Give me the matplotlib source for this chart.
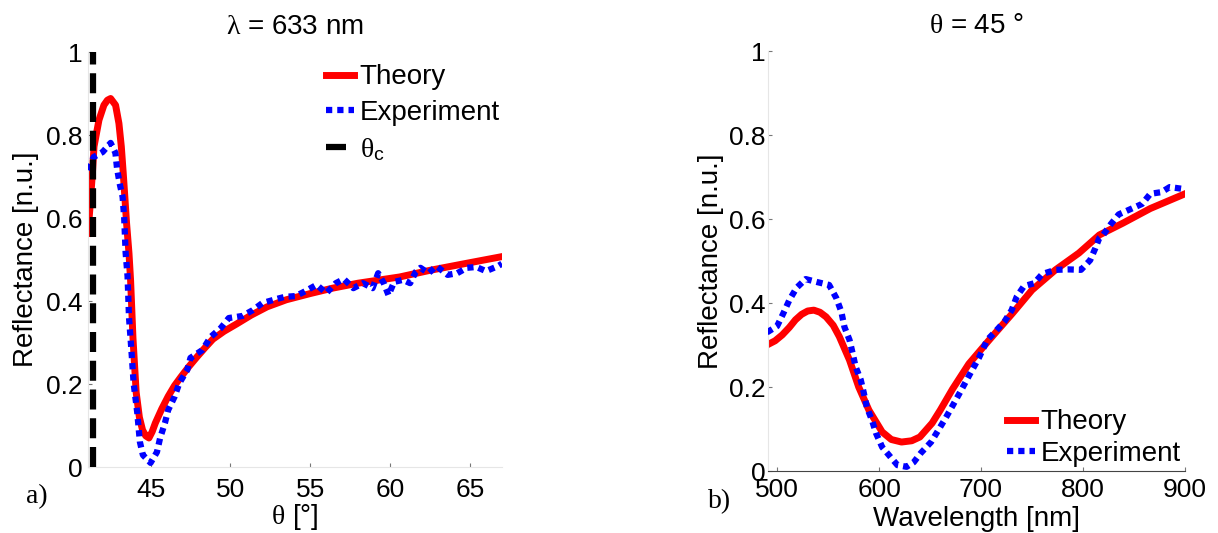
import matplotlib
matplotlib.use("Agg")
import matplotlib.pyplot as plt

plt.rcParams["font.family"] = ["Liberation Sans", "DejaVu Sans"]
plt.rcParams["mathtext.fontset"] = "custom"
plt.rcParams["mathtext.rm"] = "Liberation Serif"
plt.rcParams["mathtext.it"] = "Liberation Serif:italic"
plt.rcParams["mathtext.sf"] = "Liberation Sans"

# -------------------------------
# a) angular scan at 633 nm
# -------------------------------
theta_th = [41.08, 41.21, 41.36, 41.46, 41.77, 42.08, 42.3, 42.5, 42.81, 43.02, 43.17,
            43.29, 43.39, 43.5, 43.65, 43.75, 43.9, 44.1, 44.3, 44.5, 44.7, 44.9,
            45.1, 45.3, 45.7, 46.1, 46.5, 46.9, 47.4, 47.9, 48.4, 48.9, 49.6, 50.4,
            51.3, 52.3, 53.5, 55.0, 56.4, 58.0, 60.6, 62.5, 64.8, 67.0]
refl_th = [0.563, 0.627, 0.708, 0.772, 0.836, 0.872, 0.884, 0.888, 0.872, 0.828, 0.772,
           0.708, 0.651, 0.587, 0.515, 0.45, 0.31, 0.18, 0.12, 0.089, 0.075, 0.07,
           0.085, 0.106, 0.14, 0.17, 0.196, 0.217, 0.242, 0.265, 0.287, 0.308, 0.327,
           0.345, 0.366, 0.386, 0.403, 0.418, 0.431, 0.443, 0.458, 0.474, 0.491, 0.507]

theta_exp = [41.06, 41.44, 42.0, 42.5, 42.8, 42.9, 43.06, 43.25, 43.35, 43.44, 43.56,
             43.65, 43.8, 43.94, 44.17, 44.33, 44.52, 45.0, 45.4, 45.6, 45.9, 46.1,
             46.5, 46.8, 47.3, 47.5, 48.25, 48.75, 49.4, 49.9, 50.75, 51.4, 52.0,
             52.9, 53.4, 54.1, 54.7, 55.4, 56.0, 56.6, 57.1, 57.7, 58.3, 58.9,
             59.25, 59.6, 59.9, 60.25, 60.8, 61.25, 61.6, 61.9, 62.4, 62.9, 63.6,
             64.2, 64.8, 65.4, 66.0, 66.75, 67.0]
refl_exp = [0.716, 0.747, 0.759, 0.781, 0.757, 0.72, 0.684, 0.651, 0.6, 0.516, 0.46,
            0.361, 0.282, 0.202, 0.13, 0.061, 0.029, 0.01, 0.036, 0.07, 0.106, 0.137,
            0.169, 0.202, 0.234, 0.263, 0.282, 0.313, 0.335, 0.359, 0.364, 0.378, 0.395,
            0.405, 0.41, 0.412, 0.424, 0.439, 0.419, 0.443, 0.453, 0.431, 0.443, 0.431,
            0.467, 0.443, 0.414, 0.446, 0.451, 0.443, 0.47, 0.48, 0.467, 0.484, 0.463,
            0.467, 0.48, 0.482, 0.472, 0.484, 0.49]

theta_c = 41.42

# -------------------------------
# b) spectral scan at 45 deg
# -------------------------------
wl_th = [490, 498, 505, 512, 518, 524, 530, 536, 542, 548, 555, 561, 571, 580, 590,
         603, 612, 622, 632, 640, 652, 660, 672, 688, 708, 731, 750, 773, 796, 816,
         839, 866, 900]
refl_wl_th = [0.30, 0.31, 0.324, 0.342, 0.36, 0.373, 0.381, 0.383, 0.378, 0.367, 0.347,
              0.32, 0.264, 0.2, 0.145, 0.093, 0.075, 0.069, 0.072, 0.081, 0.114, 0.145,
              0.195, 0.255, 0.312, 0.376, 0.431, 0.479, 0.519, 0.562, 0.59, 0.625, 0.66]

wl_exp = [490, 500, 506, 512, 519, 528, 539, 551, 558, 563, 566, 571, 574, 577, 582,
          585, 588, 593, 597, 603, 612, 618, 627, 634, 641, 651, 657, 665, 672, 680,
          690, 698, 706, 714, 723, 730, 735, 742, 752, 760, 773, 786, 798, 807, 812,
          816, 820, 827, 835, 847, 858, 866, 877, 885, 897, 900]
refl_wl_exp = [0.33, 0.345, 0.375, 0.407, 0.436, 0.457, 0.45, 0.443, 0.412, 0.379, 0.343,
               0.312, 0.281, 0.248, 0.217, 0.186, 0.152, 0.121, 0.09, 0.057, 0.031, 0.014,
               0.01, 0.021, 0.043, 0.069, 0.093, 0.125, 0.155, 0.19, 0.235, 0.27, 0.312,
               0.332, 0.356, 0.383, 0.415, 0.44, 0.447, 0.469, 0.479, 0.48, 0.479, 0.502,
               0.53, 0.555, 0.563, 0.587, 0.611, 0.624, 0.636, 0.66, 0.664, 0.676, 0.672,
               0.675]

FS = 20      # labels, titles, legends
FS_TICK = 19
dots = (0, (1, 0.8))


def style_axes(ax, bottom_color):
    ax.spines["top"].set_visible(False)
    ax.spines["right"].set_visible(False)
    ax.spines["left"].set_color("#e6e6e6")
    ax.spines["bottom"].set_color(bottom_color)
    ax.tick_params(direction="in", length=3, color="#777777", labelsize=FS_TICK)
    ax.set_ylim(0, 1)
    ax.set_yticks([0, 0.2, 0.4, 0.6, 0.8, 1])
    ax.set_yticklabels(["0", "0.2", "0.4", "0.6", "0.8", "1"])


fig = plt.figure(figsize=(12.18, 5.33), dpi=100)

# ---- left panel ----
ax1 = fig.add_axes([0.0722, 0.1238, 0.3399, 0.7786])
h_th, = ax1.plot(theta_th, refl_th, color="red", lw=5, label="Theory", zorder=2)
h_ex, = ax1.plot(theta_exp, refl_exp, color="blue", lw=4.5, linestyle=dots,
                 label="Experiment", zorder=3)
h_c, = ax1.plot([theta_c, theta_c], [0, 1], color="black", lw=4.5,
                linestyle=(0, (3.2, 1.4)), label=r"$\mathrm{\theta}_\mathsf{c}$", zorder=4)
style_axes(ax1, "#e6e6e6")
ax1.set_xlim(41.08, 67)
ax1.set_xticks([45, 50, 55, 60, 65])
ax1.tick_params(axis="x", pad=8)
ax1.tick_params(axis="y", pad=4)
ax1.set_xlabel(r"$\mathrm{\theta}$ [°]", fontsize=FS, labelpad=0)
ax1.set_ylabel("Reflectance [n.u.]", fontsize=FS, labelpad=5)
ax1.set_title(r"$\mathrm{\lambda}$ = 633 nm", fontsize=FS, pad=13)
ax1.legend(handles=[h_th, h_ex, h_c], loc="upper right", bbox_to_anchor=(0.995, 0.97),
           frameon=False, fontsize=FS, handlelength=1.0, handletextpad=0.2,
           labelspacing=0.35, borderaxespad=0, borderpad=0)
fig.text(0.030, 0.068, "a)", fontsize=20, family="Liberation Serif", ha="center", va="center")

# ---- right panel ----
ax2 = fig.add_axes([0.6305, 0.1163, 0.3424, 0.788])
ax2.plot(wl_th, refl_wl_th, color="red", lw=5, label="Theory", zorder=2)
ax2.plot(wl_exp, refl_wl_exp, color="blue", lw=4.5, linestyle=dots,
         label="Experiment", zorder=3)
style_axes(ax2, "#444444")
ax2.set_xlim(491, 900)
ax2.set_xticks([500, 600, 700, 800, 900])
ax2.tick_params(axis="x", pad=5)
ax2.tick_params(axis="y", pad=2)
ax2.set_xlabel("Wavelength [nm]", fontsize=FS, labelpad=3)
ax2.set_ylabel("Reflectance [n.u.]", fontsize=FS, labelpad=3)
ax2.set_title(r"$\mathrm{\theta}$ = 45 °", fontsize=FS, pad=13)
ax2.legend(loc="lower right", bbox_to_anchor=(0.99, 0.01), frameon=False, fontsize=FS,
           handlelength=1.0, handletextpad=0.2, labelspacing=0.2,
           borderaxespad=0, borderpad=0)
fig.text(0.591, 0.058, "b)", fontsize=20, family="Liberation Serif", ha="center", va="center")

fig.savefig("out.png", dpi=100)
